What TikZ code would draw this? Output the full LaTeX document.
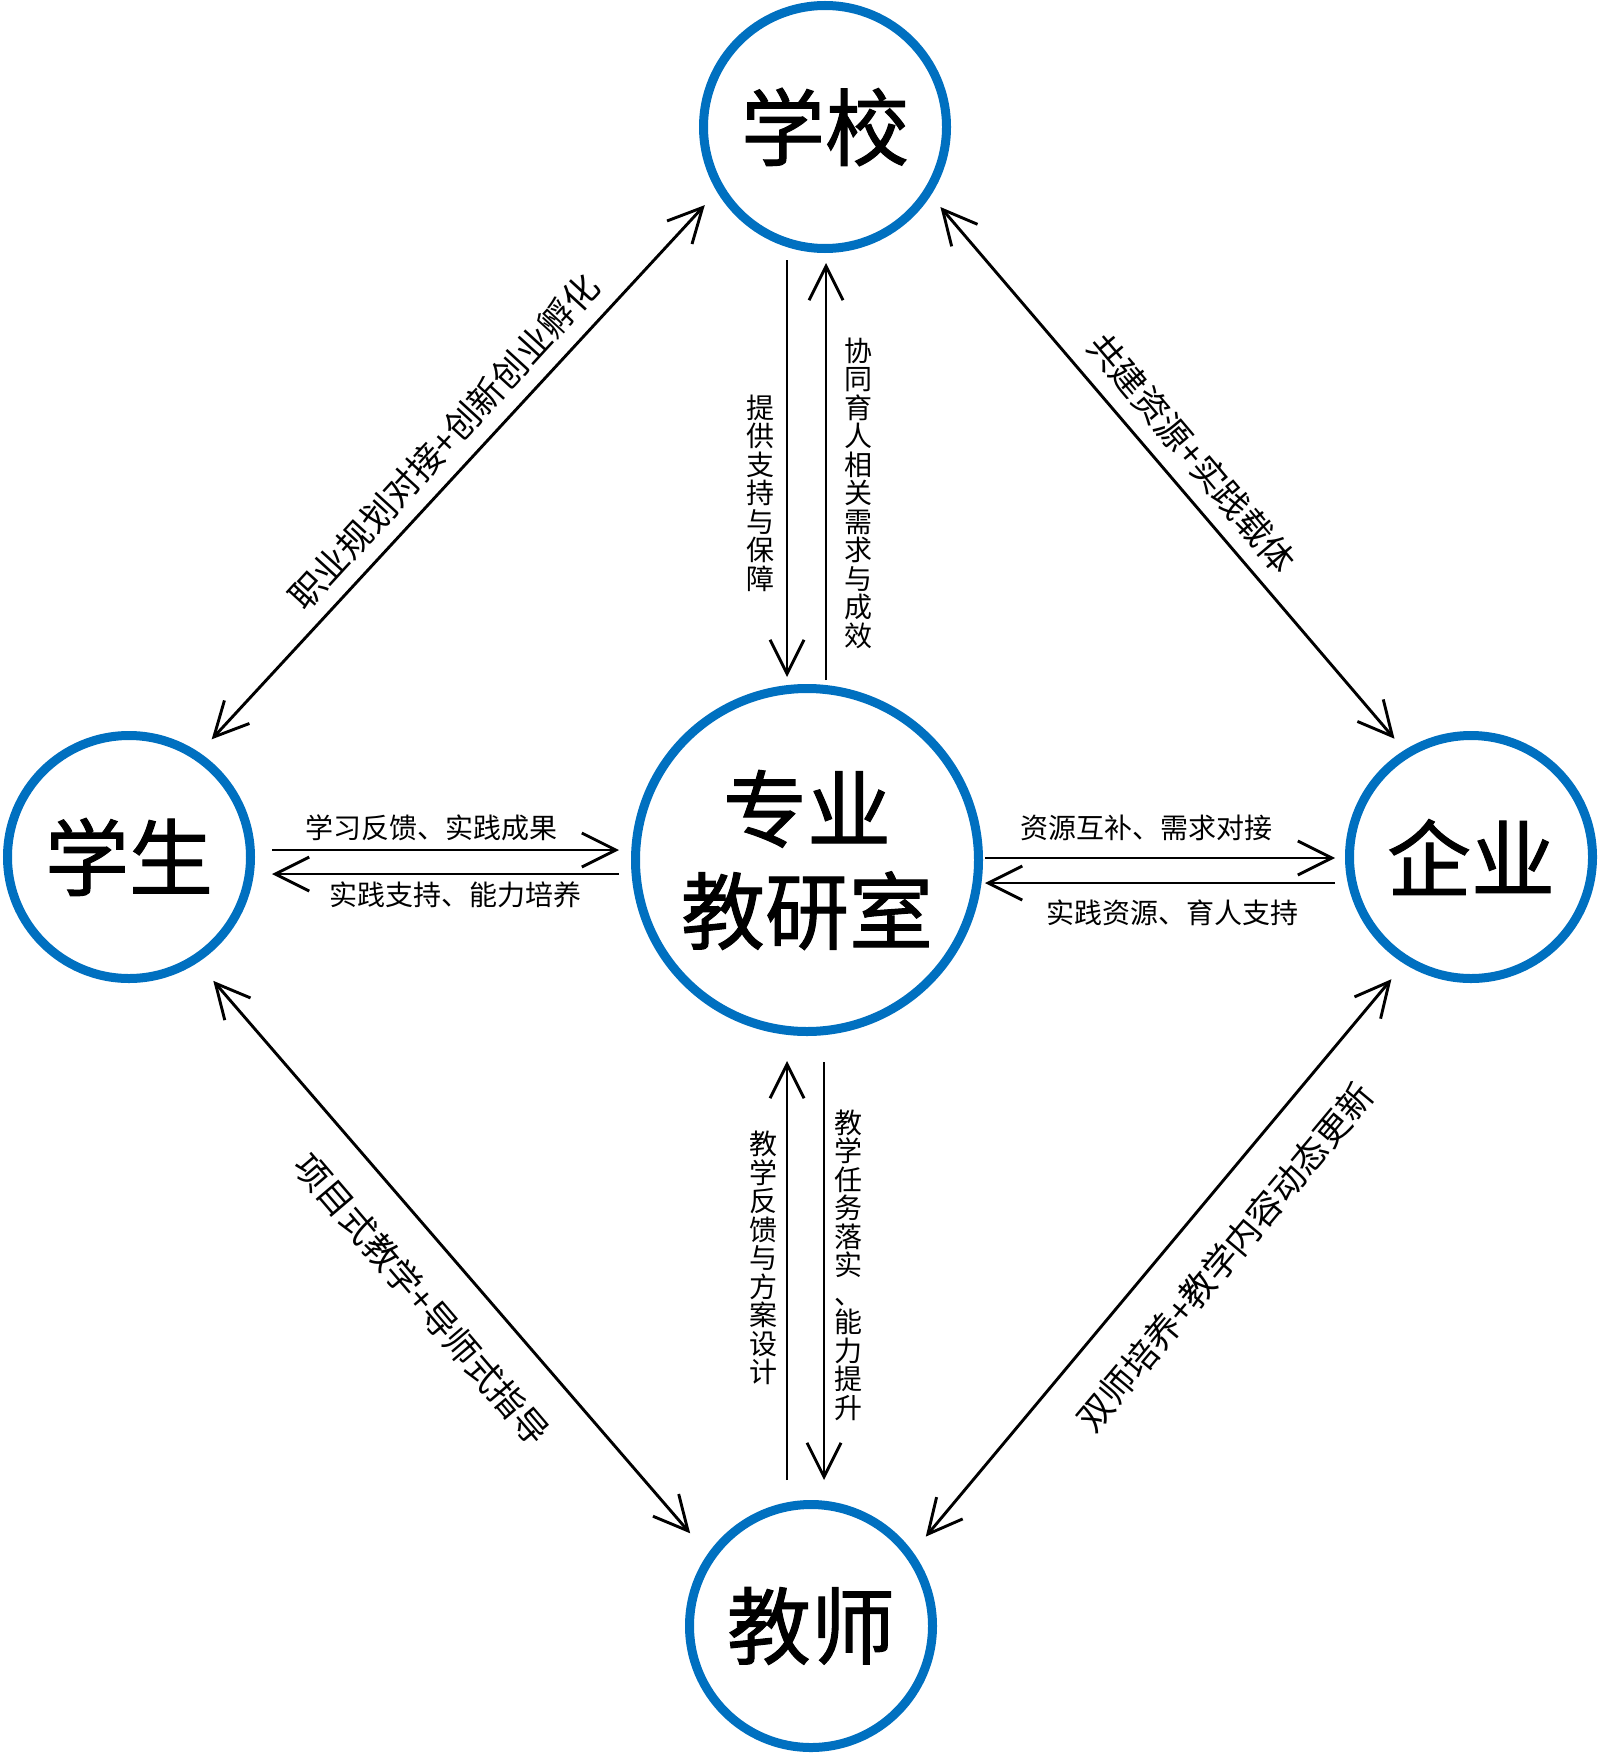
\documentclass[tikz,border=0pt]{standalone}
\usepackage{fontspec}
\setmainfont{Noto Sans CJK SC}
\newfontfamily\bigcjk[FakeBold=1.2]{Noto Sans CJK SC}
\usetikzlibrary{arrows.meta,calc}
\definecolor{ringblue}{HTML}{0070C0}
\begin{document}
\begin{tikzpicture}[x=1pt,y=-1pt,
  ring/.style={circle,draw=ringblue,line width=9pt,minimum size=243pt,inner sep=0pt,
    font=\bigcjk\fontsize{84}{102}\selectfont},
  bigring/.style={ring,minimum size=343pt,align=center},
  tipb/.tip={Straight Barb[length=34pt,width=34pt]},
  arr/.style={line width=2.9pt,-tipb},
  darr/.style={line width=2.9pt,tipb-tipb},
  hlab/.style={font=\fontsize{28}{28.5}\selectfont,inner sep=0pt},
  vlab/.style={font=\fontsize{28}{28.5}\selectfont,inner sep=0pt,align=center},
  dlab/.style={font=\fontsize{35}{35}\selectfont,inner sep=0pt}]
\fill[white] (0,0) rectangle (1600,1755);
\useasboundingbox (0,0) rectangle (1600,1755);

% circles
\node[ring] (sch) at (825,127) {学校};
\node[ring] (stu) at (129,857) {学生};
\node[bigring] (cen) at (807,860) {专业\\教研室};
\node[ring] (ent) at (1471,857) {企业};
\node[ring] (tea) at (811,1626) {教师};

% school <-> centre
\draw[arr] ($(sch.south)+(-38,7)$) -- ($(cen.north)+(-20,-7)$);
\draw[arr] ($(cen.north)+(19,-4)$) -- ($(sch.south)+(1,10)$);
\node[vlab] (lsc1) at (760,493) {提\\供\\支\\持\\与\\保\\障};
\node[vlab] (lsc2) at (858,493) {协\\同\\育\\人\\相\\关\\需\\求\\与\\成\\效};

% centre <-> teacher
\draw[arr] ($(tea.north)+(-24,-20)$) -- ($(cen.south)+(-20,25)$);
\draw[arr] ($(cen.south)+(17,26)$) -- ($(tea.north)+(13,-20)$);
\node[vlab] (lct1) at (763,1258) {教\\学\\反\\馈\\与\\方\\案\\设\\计};
\node[vlab] (lct2) at (848,1265) {教\\学\\任\\务\\落\\实\\、\\能\\力\\提\\升};

% student <-> centre
\draw[arr] ($(stu.east)+(17,-7)$) -- ($(cen.west)+(-12,-10)$);
\draw[arr] ($(cen.west)+(-12,14)$) -- ($(stu.east)+(17,17)$);
\node[hlab] (lsu1) at (431,828) {学习反馈、实践成果};
\node[hlab] (lsu2) at (455,895) {实践支持、能力培养};

% centre <-> enterprise
\draw[arr] ($(cen.east)+(2,-2)$) -- ($(ent.west)+(-10,1)$);
\draw[arr] ($(ent.west)+(-10,26)$) -- ($(cen.east)+(2,23)$);
\node[hlab] (len1) at (1146,828) {资源互补、需求对接};
\node[hlab] (len2) at (1172,913) {实践资源、育人支持};

% diagonals
\draw[darr,shorten <=18pt,shorten >=18pt] (stu.56) -- (sch.211.7);
\draw[darr,shorten <=15pt,shorten >=15pt] (sch.327) -- (ent.122.6);
\draw[darr,shorten <=24pt,shorten >=27pt] (stu.303) -- (tea.145.6);
\draw[darr,shorten <=20pt,shorten >=20pt] (ent.238.7) -- (tea.36.3);

\node[dlab,rotate=47.5] (ld1) at (444,442) {职业规划对接+创新创业孵化};
\node[dlab,rotate=-49.9] (ld2) at (1192,453) {共建资源+实践载体};
\node[dlab,rotate=-49.5] (ld3) at (422,1299) {项目式教学+导师式指导};
\node[dlab,rotate=50.1] (ld4) at (1225,1257) {双师培养+教学内容动态更新};
\end{tikzpicture}
\end{document}
